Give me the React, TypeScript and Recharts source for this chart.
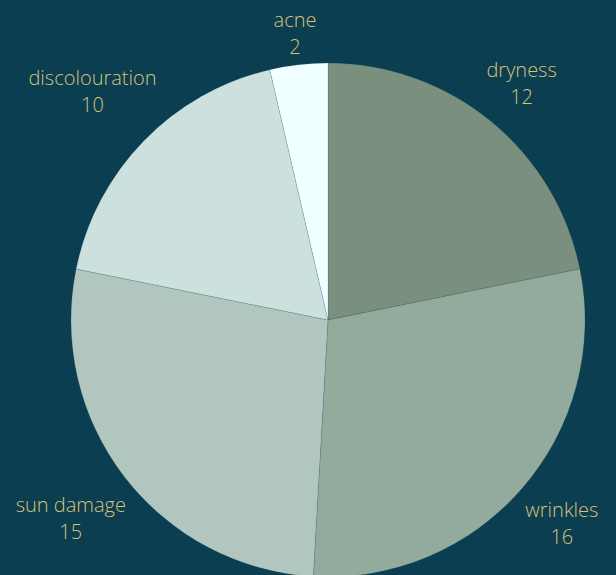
import { PieChart, Pie, Cell } from 'recharts';

// skin concerns and counts, read clockwise from 12 o'clock
const concerns = ['dryness', 'wrinkles', 'sun damage', 'discolouration', 'acne'];
const counts = [12, 16, 15, 10, 2];

const palette = ['#7a8f7d', '#93ab9c', '#b0c6bf', '#cce1dd', '#f0ffff'];

const BG = '#0b3e50';
const LABEL_COLOR = '#d6c27a';
const FONT = '"Open Sans", sans-serif';
const FONT_SIZE = 20;
const FONT_WEIGHT = 300;

const data = concerns.map((name, i) => ({ name, value: counts[i] }));

const measureCtx = typeof document !== 'undefined' ? document.createElement('canvas').getContext('2d') : null;

function textWidth(s: string) {
  if (!measureCtx) return s.length * FONT_SIZE * 0.5;
  measureCtx.font = `${FONT_WEIGHT} ${FONT_SIZE}px "Open Sans"`;
  return measureCtx.measureText(s).width;
}

// label block sits outside the pie, pushed out by its own size so it never touches a slice
function renderLabel(props: any) {
  const { cx, cy, midAngle, outerRadius } = props;
  const name = props.name ?? props.payload?.name;
  const value = props.value ?? props.payload?.value;
  const rad = (midAngle * Math.PI) / 180;
  const cos = Math.cos(rad);
  const sin = Math.sin(rad);
  const halfW = Math.max(textWidth(String(name)), textWidth(String(value))) / 2;
  const r = outerRadius + 15 + halfW * Math.abs(cos) + 15 * Math.abs(sin);
  const x = cx + r * cos;
  const y = cy - r * sin;
  return (
    <text
      x={x}
      y={y}
      textAnchor="middle"
      fill={LABEL_COLOR}
      fontFamily={FONT}
      fontSize={FONT_SIZE}
      fontWeight={FONT_WEIGHT}
    >
      <tspan x={x} y={y - 6}>{name}</tspan>
      <tspan x={x} y={y + 21}>{value}</tspan>
    </text>
  );
}

export default function App() {
  return (
    <div style={{ position: 'absolute', left: 0, top: 0, width: 616, height: 575, background: BG, overflow: 'hidden' }}>
      <PieChart width={616} height={575} margin={{ top: 0, right: 0, bottom: 0, left: 0 }}>
        <Pie
          data={data}
          dataKey="value"
          nameKey="name"
          cx={328}
          cy={320}
          outerRadius={257}
          startAngle={90}
          endAngle={-270}
          stroke="rgba(11,62,80,0.35)"
          strokeWidth={0.4}
          label={renderLabel}
          labelLine={false}
          isAnimationActive={false}
        >
          {data.map((d, i) => (
            <Cell key={d.name} fill={palette[i]} />
          ))}
        </Pie>
      </PieChart>
    </div>
  );
}
